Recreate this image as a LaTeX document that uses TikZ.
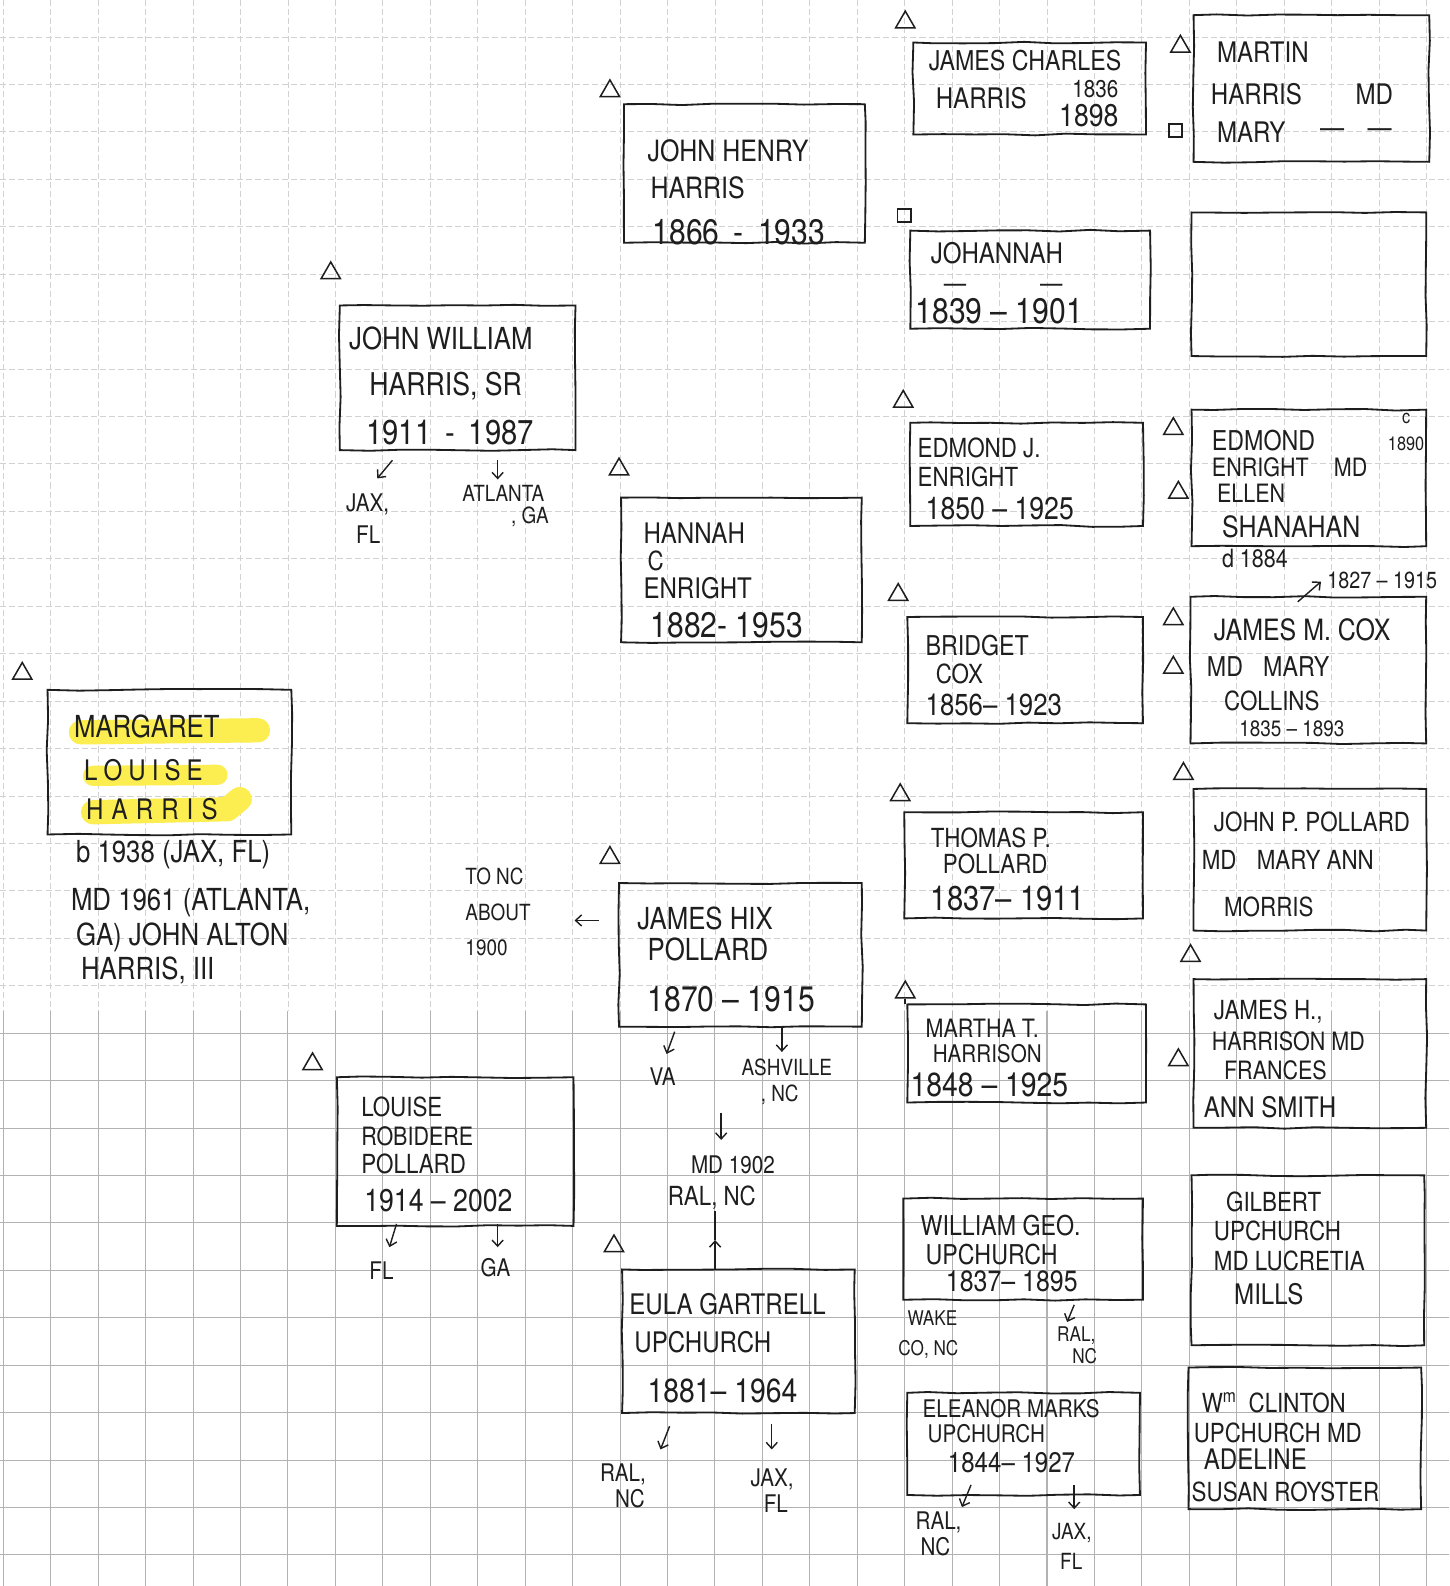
\documentclass[tikz,border=0pt]{standalone}
\usepackage{fontspec}
\setmainfont[FakeStretch=0.85]{TeX Gyre Heros}
\usetikzlibrary{shapes.geometric,arrows.meta,decorations.pathmorphing}
\definecolor{pencil}{RGB}{30,30,30}
\definecolor{hly}{RGB}{252,238,80}
\tikzset{
  gridA/.style={gray!35, line width=0.8pt, dash pattern=on 6pt off 3pt},
  gridB/.style={gray!60, line width=1pt},
  box/.style={draw=pencil, line width=1.8pt, inner sep=0pt, decorate,
    decoration={random steps, segment length=30pt, amplitude=0.9pt}},
  hwtext/.style={anchor=base west, inner sep=0pt, text=pencil},
  trishape/.style={draw=pencil, line width=1.5pt, regular polygon, regular polygon sides=3,
    minimum size=22pt, inner sep=0pt},
  sqshape/.style={draw=pencil, line width=1.5pt, minimum size=13pt, inner sep=0pt},
  harr/.style={draw=pencil, line width=1.4pt, -{Straight Barb[length=6pt,width=11pt]}},
  hl/.style={draw=hly, line width=24pt, line cap=round, line join=round},
}
\newcommand{\hw}[5]{\node[hwtext,font=\fontsize{#5}{#5}\selectfont] (#1) at (#2,#3) {#4};}
\newcommand{\fambox}[5]{\node[box, minimum width={(#4-#2)*1pt}, minimum height={(#5-#3)*1pt}] (#1) at ({(#2+#4)/2},{(#3+#5)/2}) {};}
\newcommand{\tri}[3]{\node[trishape] (#1) at (#2,#3) {};}
\newcommand{\sqr}[3]{\node[sqshape] (#1) at (#2,#3) {};}
\begin{document}
\begin{tikzpicture}[x=1pt,y=-1pt]
\useasboundingbox (0,0) rectangle (1433,1568);
\fill[white] (0,0) rectangle (1433,1568);
% graph paper
\foreach \i in {0,...,30} {
  \pgfmathsetmacro\gx{3.3+46.9*\i}
  \draw[gridA] (\gx,0) -- (\gx,1000);
  \draw[gridB] (\gx,1000) -- (\gx,1568);
}
\foreach \j in {0,...,32} {
  \pgfmathsetmacro\gy{36.5+46.9*\j}
  \ifdim\gy pt<1000pt
    \draw[gridA] (0,\gy) -- (1433,\gy);
  \else
    \draw[gridB] (0,\gy) -- (1433,\gy);
  \fi
}
% highlights
\draw[hl] (80,724) -- (255,722);
\draw[hl, line width=20pt] (92,767) -- (215,766);
\draw[hl] (92,803) -- (225,800) -- (237,790);

% ---------- boxes ----------
\fambox{jch}{903}{42}{1133}{133}
\fambox{mhm}{1180}{15}{1413}{160}
\fambox{jhh}{617}{103}{855}{240}
\fambox{joh}{900}{228}{1137}{325}
\fambox{emp}{1178}{210}{1410}{352}
\fambox{jws}{336}{302}{569}{445}
\fambox{hce}{614}{492}{852}{635}
\fambox{eje}{900}{418}{1130}{520}
\fambox{ees}{1178}{405}{1410}{540}
\fambox{bcx}{897}{610}{1130}{715}
\fambox{jmc}{1177}{590}{1410}{735}
\fambox{mlh}{47}{682}{288}{825}
\fambox{tpp}{894}{803}{1130}{908}
\fambox{jpp}{1180}{780}{1410}{920}
\fambox{jhp}{612}{873}{852}{1015}
\fambox{mth}{897}{993}{1133}{1090}
\fambox{jhs}{1180}{968}{1410}{1115}
\fambox{lrp}{333}{1065}{567}{1212}
\fambox{egu}{615}{1255}{845}{1397}
\fambox{wgu}{893}{1185}{1130}{1285}
\fambox{emu}{897}{1377}{1127}{1478}
\fambox{gum}{1178}{1162}{1408}{1330}
\fambox{wcu}{1175}{1352}{1405}{1492}

% ---------- triangles and squares ----------
\tri{tjch}{895}{22}
\tri{tmhm}{1167}{46}
\sqr{smhm}{1162}{129}
\tri{tjhh}{603}{90}
\sqr{sjoh}{894}{213}
\tri{tjws}{327}{270}
\tri{thce}{612}{464}
\tri{teje}{893}{397}
\tri{tees1}{1160}{424}
\tri{tees2}{1165}{487}
\tri{tbcx}{888}{588}
\tri{tjmc1}{1160}{612}
\tri{tjmc2}{1160}{660}
\tri{tmlh}{22}{666}
\tri{ttpp}{890}{786}
\tri{tjpp}{1170}{765}
\tri{tjhp}{603}{848}
\tri{tmth}{895}{981}
\tri{tjhs1}{1177}{945}
\tri{tjhs2}{1165}{1048}
\tri{tlrp}{309}{1052}
\tri{tegu}{607}{1232}
\draw[draw=pencil, line width=1.8pt] (tmth.south) -- (tmth.south |- mth.north);

% ---------- texts ----------
\hw{jch1}{918}{70}{JAMES CHARLES}{27}
\hw{jch2}{925}{107}{HARRIS}{28}
\hw{jch3}{1060}{96}{1836}{24}
\hw{jch4}{1047}{125}{1898}{31}

\hw{mhm1}{1203}{62}{MARTIN}{28}
\hw{mhm2}{1197}{103}{HARRIS}{28}
\hw{mhm3}{1340}{103}{MD}{28}
\hw{mhm4}{1203}{141}{MARY}{28}
\hw{mhm5}{1305}{136}{—}{28}
\hw{mhm6}{1352}{136}{—}{28}

\hw{jhh1}{640}{160}{JOHN HENRY}{29}
\hw{jhh2}{643}{196}{HARRIS}{29}
\hw{jhh3}{645}{242}{1866 \,-\, 1933}{35}

\hw{joh1}{920}{261}{JOHANNAH}{28}
\hw{joh2}{933}{289}{—}{26}
\hw{joh3}{1028}{289}{—}{26}
\hw{joh4}{905}{320}{1839 – 1901}{35}

\hw{jws1}{345}{346}{JOHN WILLIAM}{30}
\hw{jws2}{365}{391}{HARRIS, SR}{31}
\hw{jws3}{362}{439}{1911 \,-\, 1987}{34}
\coordinate (a1s) at (388,455); \coordinate (a1e) at (373,473);
\coordinate (a2s) at (492,455); \coordinate (a2e) at (492,474);
\draw[harr] (a1s) -- (a1e);
\draw[harr] (a2s) -- (a2e);
\hw{jws4}{342}{506}{JAX,}{24}
\hw{jws5}{352}{537}{FL}{24}
\hw{jws6}{457}{496}{ATLANTA}{22}
\hw{jws7}{505}{518}{, GA}{22}

\hw{hce1}{636}{537}{HANNAH}{28}
\hw{hce2}{640}{564}{C}{26}
\hw{hce3}{636}{592}{ENRIGHT}{28}
\hw{hce4}{643}{630}{1882- 1953}{35}

\hw{eje1}{907}{452}{EDMOND J.}{26}
\hw{eje2}{907}{481}{ENRIGHT}{26}
\hw{eje3}{915}{514}{1850 – 1925}{31}

\hw{ees1}{1198}{445}{EDMOND}{27}
\hw{ees2}{1386}{419}{c}{19}
\hw{ees3}{1372}{445}{1890}{19}
\hw{ees4}{1198}{471}{ENRIGHT\hspace{25pt}MD}{25}
\hw{ees5}{1203}{497}{ELLEN}{25}
\hw{ees6}{1208}{531}{SHANAHAN}{29}
\hw{ees7}{1208}{561}{d 1884}{25}
\coordinate (a3s) at (1283,595); \coordinate (a3e) at (1306,575);
\draw[harr] (a3s) -- (a3e);
\hw{ees8}{1312}{582}{1827 – 1915}{23}

\hw{bcx1}{915}{648}{BRIDGET}{27}
\hw{bcx2}{925}{676}{COX}{26}
\hw{bcx3}{915}{707}{1856– 1923}{30}

\hw{jmc1}{1200}{633}{JAMES M. COX}{29}
\hw{jmc2}{1193}{669}{MD\hspace{20pt}MARY}{27}
\hw{jmc3}{1210}{702}{COLLINS}{26}
\hw{jmc4}{1225}{728}{1835 – 1893}{22}

\hw{mlh1}{73}{729}{MARGARET}{30}
\hw{mlh2}{83}{772}{L\hspace{6pt}O\hspace{6pt}U\hspace{6pt}I\hspace{6pt}S\hspace{6pt}E}{28}
\hw{mlh3}{85}{810}{H\hspace{8pt}A\hspace{8pt}R\hspace{8pt}R\hspace{8pt}I\hspace{8pt}S}{28}
\hw{mlh4}{75}{853}{b 1938 (JAX, FL)}{30}
\hw{mlh5}{70}{900}{MD 1961 (ATLANTA,}{30}
\hw{mlh6}{75}{935}{GA) JOHN ALTON}{30}
\hw{mlh7}{80}{968}{HARRIS, III}{30}

\hw{tpp1}{920}{838}{THOMAS P.}{26}
\hw{tpp2}{932}{864}{POLLARD}{26}
\hw{tpp3}{920}{900}{1837– 1911}{34}

\hw{jpp1}{1200}{822}{JOHN P. POLLARD}{26}
\hw{jpp2}{1188}{860}{MD\hspace{20pt}MARY ANN}{26}
\hw{jpp3}{1210}{906}{MORRIS}{26}

\hw{jhp1}{630}{919}{JAMES HIX}{30}
\hw{jhp2}{640}{950}{POLLARD}{30}
\hw{jhp3}{640}{1000}{1870 – 1915}{35}
\hw{jhp4}{460}{874}{TO NC}{22}
\hw{jhp5}{460}{910}{ABOUT}{22}
\hw{jhp6}{460}{945}{1900}{22}
\coordinate (a4s) at (592,910); \coordinate (a4e) at (568,910);
\draw[harr] (a4s) -- (a4e);
\coordinate (a5s) at (667,1020); \coordinate (a5e) at (659,1042);
\coordinate (a6s) at (773,1015); \coordinate (a6e) at (773,1040);
\draw[harr] (a5s) -- (a5e);
\draw[harr] (a6s) -- (a6e);
\hw{jhp7}{642}{1073}{VA}{24}
\hw{jhp8}{733}{1063}{ASHVILLE}{22}
\hw{jhp9}{752}{1089}{, NC}{22}
\coordinate (a7s) at (713,1100); \coordinate (a7e) at (713,1127);
\draw[harr] (a7s) -- (a7e);
\hw{jhp10}{683}{1160}{MD 1902}{24}
\hw{jhp11}{660}{1192}{RAL, NC}{26}
\coordinate (u1) at (707,1255); \coordinate (u2) at (707,1226); \coordinate (u3) at (707,1197);
\draw[harr] (u1) -- (u2);
\draw[draw=pencil, line width=1.4pt] (u2) -- (u3);

\hw{mth1}{915}{1026}{MARTHA T.}{25}
\hw{mth2}{922}{1050}{HARRISON}{24}
\hw{mth3}{900}{1084}{1848 – 1925}{33}

\hw{jhs1}{1200}{1008}{JAMES H.,}{26}
\hw{jhs2}{1198}{1039}{HARRISON MD}{25}
\hw{jhs3}{1210}{1067}{FRANCES}{25}
\hw{jhs4}{1190}{1105}{ANN SMITH}{28}

\hw{lrp1}{357}{1104}{LOUISE}{26}
\hw{lrp2}{357}{1132}{ROBIDERE}{25}
\hw{lrp3}{357}{1160}{POLLARD}{26}
\hw{lrp4}{360}{1198}{1914 – 2002}{31}
\coordinate (a8s) at (392,1210); \coordinate (a8e) at (385,1233);
\coordinate (a9s) at (492,1210); \coordinate (a9e) at (492,1233);
\draw[harr] (a8s) -- (a8e);
\draw[harr] (a9s) -- (a9e);
\hw{lrp5}{365}{1265}{FL}{24}
\hw{lrp6}{475}{1262}{GA}{24}

\hw{egu1}{622}{1300}{EULA GARTRELL}{28}
\hw{egu2}{627}{1337}{UPCHURCH}{28}
\hw{egu3}{640}{1387}{1881– 1964}{33}
\coordinate (a10s) at (662,1410); \coordinate (a10e) at (653,1433);
\coordinate (a11s) at (763,1408); \coordinate (a11e) at (763,1433);
\draw[harr] (a10s) -- (a10e);
\draw[harr] (a11s) -- (a11e);
\hw{egu4}{593}{1465}{RAL,}{24}
\hw{egu5}{608}{1490}{NC}{24}
\hw{egu6}{742}{1470}{JAX,}{24}
\hw{egu7}{755}{1495}{FL}{24}

\hw{wgu1}{910}{1221}{WILLIAM GEO.}{27}
\hw{wgu2}{915}{1250}{UPCHURCH}{27}
\hw{wgu3}{935}{1277}{1837– 1895}{29}
\hw{wgu4}{897}{1310}{WAKE}{20}
\hw{wgu5}{888}{1340}{CO, NC}{20}
\coordinate (a12s) at (1062,1290); \coordinate (a12e) at (1055,1307);
\draw[harr] (a12s) -- (a12e);
\hw{wgu6}{1045}{1326}{RAL,}{20}
\hw{wgu7}{1060}{1348}{NC}{20}

\hw{emu1}{912}{1401}{ELEANOR MARKS}{24}
\hw{emu2}{917}{1426}{UPCHURCH}{24}
\hw{emu3}{937}{1456}{1844– 1927}{28}
\coordinate (a13s) at (960,1468); \coordinate (a13e) at (951,1490);
\coordinate (a14s) at (1062,1468); \coordinate (a14e) at (1062,1492);
\draw[harr] (a13s) -- (a13e);
\draw[harr] (a14s) -- (a14e);
\hw{emu4}{905}{1512}{RAL,}{24}
\hw{emu5}{910}{1538}{NC}{24}
\hw{emu6}{1040}{1522}{JAX,}{22}
\hw{emu7}{1048}{1552}{FL}{22}

\hw{gum1}{1212}{1198}{GILBERT}{26}
\hw{gum2}{1200}{1226}{UPCHURCH}{26}
\hw{gum3}{1200}{1256}{MD LUCRETIA}{26}
\hw{gum4}{1220}{1290}{MILLS}{28}

\hw{wcu1}{1188}{1396}{W\textsuperscript{m}\hspace{12pt}CLINTON}{26}
\hw{wcu2}{1180}{1426}{UPCHURCH MD}{26}
\hw{wcu3}{1190}{1453}{ADELINE}{28}
\hw{wcu4}{1178}{1484}{SUSAN ROYSTER}{26}
\end{tikzpicture}
\end{document}
